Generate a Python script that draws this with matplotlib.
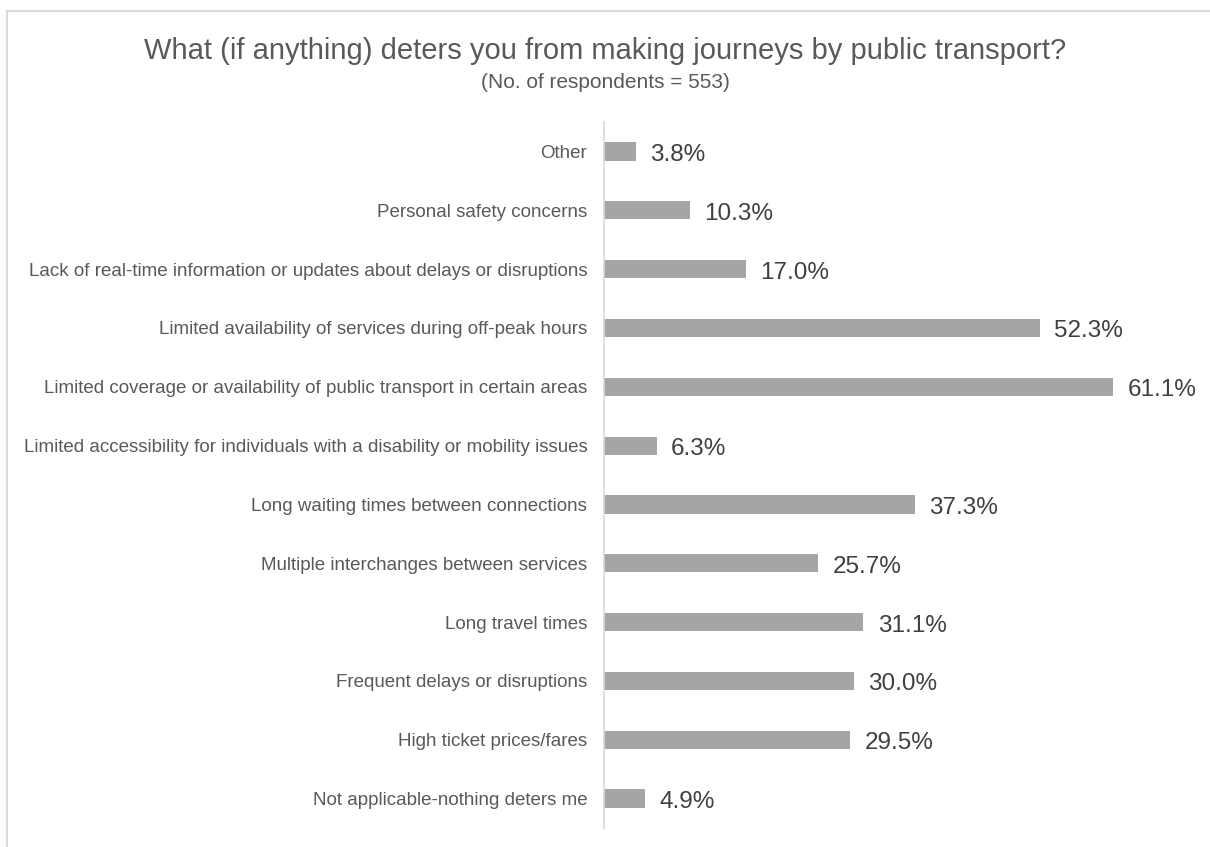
import matplotlib.pyplot as plt
from matplotlib.lines import Line2D

plt.rcParams['font.family'] = ['Liberation Sans', 'DejaVu Sans']

categories = [
    "Other",
    "Personal safety concerns",
    "Lack of real-time information or updates about delays or disruptions",
    "Limited availability of services during off-peak hours",
    "Limited coverage or availability of public transport in certain areas",
    "Limited accessibility for individuals with a disability or mobility issues",
    "Long waiting times between connections",
    "Multiple interchanges between services",
    "Long travel times",
    "Frequent delays or disruptions",
    "High ticket prices/fares",
    "Not applicable-nothing deters me",
]
values = [3.8, 10.3, 17.0, 52.3, 61.1, 6.3, 37.3, 25.7, 31.1, 30.0, 29.5, 4.9]

text_col = "#595959"
bar_col = "#A5A5A5"
line_col = "#D9D9D9"

fig = plt.figure(figsize=(12.1, 8.47), dpi=100)
ax = fig.add_axes([0.4992, 0.0224, 0.4818, 0.8335])

y = list(range(len(categories)))
ax.barh(y, values, height=0.31, color=bar_col)
for yi, v in zip(y, values):
    ax.annotate(f"{v:.1f}%", (v, yi), xytext=(10.5, -2.5), textcoords="offset points",
                va="center", ha="left", fontsize=17.5, color="#404040")

ax.set_xlim(0, 70)
ax.set_ylim(len(categories) - 0.5, -0.5)
ax.set_yticks(y)
ax.set_yticklabels(categories, fontsize=13.5, color=text_col)
ax.tick_params(axis="y", length=0, pad=12)
ax.set_xticks([])
for s in ["top", "right", "bottom"]:
    ax.spines[s].set_visible(False)
ax.spines["left"].set_color(line_col)
ax.spines["left"].set_linewidth(1.2)

fig.text(0.5, 1 - 51 / 847, "What (if anything) deters you from making journeys by public transport?",
         ha="center", va="center", fontsize=21, color=text_col)
fig.text(0.5, 1 - 82 / 847, "(No. of respondents = 553)",
         ha="center", va="center", fontsize=15, color=text_col)

# chart frame
fig.add_artist(Line2D([6.5 / 1210, 1], [1 - 11.5 / 847, 1 - 11.5 / 847],
                      transform=fig.transFigure, color=line_col, lw=1.5))
fig.add_artist(Line2D([6.5 / 1210, 6.5 / 1210], [0, 1 - 11.5 / 847],
                      transform=fig.transFigure, color=line_col, lw=1.5))

fig.savefig("out.png", dpi=100)
